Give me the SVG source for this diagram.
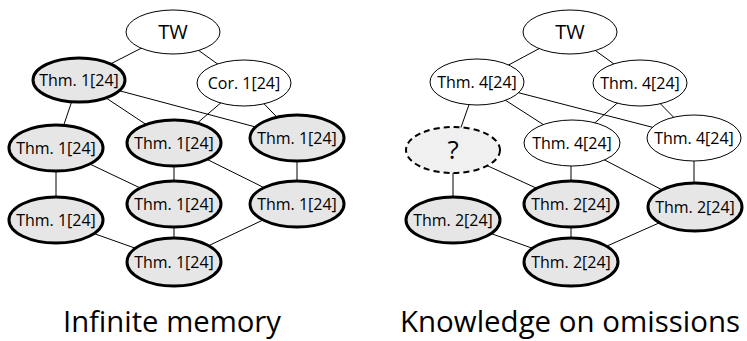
<svg xmlns="http://www.w3.org/2000/svg" width="747" height="341" viewBox="0 0 747 341">
<style>
  .edge { stroke: #000; stroke-width: 1; fill: none; }
  .plain { fill: #fff; stroke: #000; stroke-width: 1; }
  .bold { fill: #e6e6e6; stroke: #000; stroke-width: 3; }
  .unk { fill: #f0f0f0; stroke: #000; stroke-width: 2; stroke-dasharray: 6 4; }
  .lbl { font-family: "Open Sans", "Noto Sans", sans-serif; font-size: 16px; text-anchor: middle; fill: #000; }
  .tw { font-family: "Open Sans", "Noto Sans", sans-serif; font-size: 20px; text-anchor: middle; fill: #000; }
  .q { font-family: "Open Sans", "Noto Sans", sans-serif; font-size: 26px; text-anchor: middle; fill: #000; }
  .cap { font-family: "Open Sans", "Noto Sans", sans-serif; font-size: 30px; text-anchor: middle; fill: #000; }
</style>
<rect width="747" height="341" fill="#fff"/>
<g id="connectors">
  <!-- left panel -->
  <line class="edge" x1="173" y1="32" x2="79" y2="80"/>
  <line class="edge" x1="173" y1="32" x2="244" y2="83"/>
  <line class="edge" x1="79" y1="80" x2="56" y2="148"/>
  <line class="edge" x1="79" y1="80" x2="174" y2="143"/>
  <line class="edge" x1="79" y1="80" x2="297" y2="138"/>
  <line class="edge" x1="244" y1="83" x2="174" y2="143"/>
  <line class="edge" x1="244" y1="83" x2="297" y2="138"/>
  <line class="edge" x1="56" y1="148" x2="56" y2="220"/>
  <line class="edge" x1="56" y1="148" x2="174" y2="204"/>
  <line class="edge" x1="174" y1="143" x2="174" y2="204"/>
  <line class="edge" x1="174" y1="143" x2="297" y2="204"/>
  <line class="edge" x1="297" y1="138" x2="297" y2="204"/>
  <line class="edge" x1="56" y1="220" x2="174" y2="262"/>
  <line class="edge" x1="174" y1="204" x2="174" y2="262"/>
  <line class="edge" x1="297" y1="204" x2="174" y2="262"/>
  <!-- right panel -->
  <line class="edge" x1="570" y1="32" x2="477" y2="82"/>
  <line class="edge" x1="570" y1="32" x2="640" y2="83"/>
  <line class="edge" x1="477" y1="82" x2="453" y2="150"/>
  <line class="edge" x1="477" y1="82" x2="572" y2="143"/>
  <line class="edge" x1="477" y1="82" x2="694" y2="138"/>
  <line class="edge" x1="640" y1="83" x2="572" y2="143"/>
  <line class="edge" x1="640" y1="83" x2="694" y2="138"/>
  <line class="edge" x1="453" y1="150" x2="453" y2="220"/>
  <line class="edge" x1="453" y1="150" x2="571" y2="204"/>
  <line class="edge" x1="571" y1="143" x2="571" y2="204"/>
  <line class="edge" x1="572" y1="143" x2="695" y2="207"/>
  <line class="edge" x1="694" y1="138" x2="694" y2="207"/>
  <line class="edge" x1="453" y1="220" x2="571" y2="262"/>
  <line class="edge" x1="571" y1="204" x2="571" y2="262"/>
  <line class="edge" x1="695" y1="207" x2="571" y2="262"/>
</g>
<!-- left panel nodes -->
<g id="L-tw"><ellipse class="plain" cx="173" cy="32" rx="47" ry="22"/><text class="tw" x="173" y="39">TW</text></g>
<g id="L-thm-a"><ellipse class="bold" cx="79" cy="80" rx="46" ry="22"/><text class="lbl" x="79" y="86">Thm. 1[24]</text></g>
<g id="L-cor"><ellipse class="plain" cx="244" cy="83" rx="47" ry="23"/><text class="lbl" x="244" y="89">Cor. 1[24]</text></g>
<g id="L-thm-b"><ellipse class="bold" cx="56" cy="148" rx="47" ry="23"/><text class="lbl" x="56" y="154">Thm. 1[24]</text></g>
<g id="L-thm-c"><ellipse class="bold" cx="174" cy="143" rx="47" ry="23"/><text class="lbl" x="174" y="149">Thm. 1[24]</text></g>
<g id="L-thm-d"><ellipse class="bold" cx="297" cy="138" rx="47" ry="23"/><text class="lbl" x="297" y="144">Thm. 1[24]</text></g>
<g id="L-thm-e"><ellipse class="bold" cx="56" cy="220" rx="47" ry="23"/><text class="lbl" x="56" y="226">Thm. 1[24]</text></g>
<g id="L-thm-f"><ellipse class="bold" cx="174" cy="204" rx="47" ry="23"/><text class="lbl" x="174" y="210">Thm. 1[24]</text></g>
<g id="L-thm-g"><ellipse class="bold" cx="297" cy="204" rx="47" ry="23"/><text class="lbl" x="297" y="210">Thm. 1[24]</text></g>
<g id="L-thm-h"><ellipse class="bold" cx="174" cy="262" rx="47" ry="24"/><text class="lbl" x="174" y="268">Thm. 1[24]</text></g>
<!-- right panel nodes -->
<g id="R-tw"><ellipse class="plain" cx="570" cy="32" rx="47" ry="22"/><text class="tw" x="570" y="39">TW</text></g>
<g id="R-thm4-a"><ellipse class="plain" cx="477" cy="82" rx="47" ry="23"/><text class="lbl" x="477" y="88">Thm. 4[24]</text></g>
<g id="R-thm4-b"><ellipse class="plain" cx="640" cy="83" rx="47" ry="23"/><text class="lbl" x="640" y="89">Thm. 4[24]</text></g>
<g id="R-unknown"><ellipse class="unk" cx="453" cy="150" rx="47" ry="23"/><text class="q" x="453" y="159">?</text></g>
<g id="R-thm4-c"><ellipse class="plain" cx="572" cy="143" rx="48" ry="23"/><text class="lbl" x="572" y="149">Thm. 4[24]</text></g>
<g id="R-thm4-d"><ellipse class="plain" cx="694" cy="138" rx="47" ry="23"/><text class="lbl" x="694" y="144">Thm. 4[24]</text></g>
<g id="R-thm2-a"><ellipse class="bold" cx="453" cy="220" rx="47" ry="23"/><text class="lbl" x="453" y="226">Thm. 2[24]</text></g>
<g id="R-thm2-b"><ellipse class="bold" cx="571" cy="204" rx="47" ry="23"/><text class="lbl" x="571" y="210">Thm. 2[24]</text></g>
<g id="R-thm2-c"><ellipse class="bold" cx="695" cy="207" rx="47" ry="24"/><text class="lbl" x="695" y="213">Thm. 2[24]</text></g>
<g id="R-thm2-d"><ellipse class="bold" cx="571" cy="262" rx="47" ry="24"/><text class="lbl" x="571" y="268">Thm. 2[24]</text></g>
<!-- captions -->
<text class="cap" x="172" y="332" textLength="218" lengthAdjust="spacingAndGlyphs">Infinite memory</text>
<text class="cap" x="570" y="332" textLength="340" lengthAdjust="spacingAndGlyphs">Knowledge on omissions</text>
</svg>
